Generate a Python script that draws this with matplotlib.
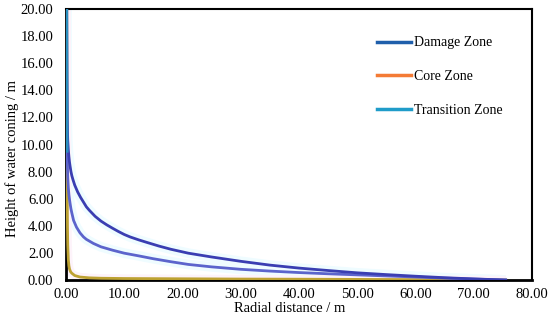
import matplotlib
matplotlib.use("Agg")
import matplotlib.pyplot as plt
from matplotlib.lines import Line2D

plt.rcParams['font.family'] = ['Liberation Serif', 'DejaVu Serif']

# values (radial distance in m, height in m)
damage_x = [0.12, 0.15, 0.2, 0.25, 0.3, 0.4, 0.5, 0.6, 0.7, 0.85, 1.0, 1.2, 1.5, 2.0, 2.5, 3.0,
            3.5, 4.0, 5.0, 6.0, 7.0, 8.0, 9.0, 10.0, 11.0, 12.5, 14.0, 16.0, 18.0, 21.0, 25.0,
            30.0, 35.0, 40.0, 45.0, 50.0, 55.0, 60.0, 65.0, 70.0, 75.5]
damage_h = [20.0, 15.0, 12.0, 11.0, 10.3, 9.6, 9.1, 8.7, 8.4, 8.0, 7.7, 7.4, 7.0, 6.5, 6.1, 5.75,
            5.4, 5.15, 4.7, 4.35, 4.07, 3.82, 3.58, 3.36, 3.18, 2.96, 2.76, 2.5, 2.27, 1.98, 1.7,
            1.38, 1.1, 0.88, 0.7, 0.53, 0.4, 0.28, 0.17, 0.08, 0.0]

trans_x = [0.12, 0.15, 0.2, 0.25, 0.3, 0.4, 0.5, 0.6, 0.7, 0.85, 1.0, 1.3, 1.8, 2.4, 3.0, 3.5,
           4.7, 6.0, 8.0, 10.0, 12.5, 15.0, 18.0, 21.0, 25.0, 30.0, 35.0, 40.0, 45.0, 50.0,
           55.0, 60.0, 65.0, 70.0, 75.5]
trans_h = [20.0, 14.0, 9.5, 8.3, 7.6, 6.8, 6.3, 5.95, 5.65, 5.25, 4.95, 4.4, 3.9, 3.48, 3.18, 3.0,
           2.7, 2.45, 2.2, 1.98, 1.78, 1.57, 1.35, 1.15, 0.97, 0.79, 0.66, 0.55, 0.46, 0.38,
           0.3, 0.22, 0.14, 0.07, 0.0]

core_x = [0.12, 0.15, 0.2, 0.25, 0.3, 0.4, 0.5, 0.6, 0.8, 1.0, 1.5, 2.4, 4.0, 6.0, 10.0, 20.0,
          30.0, 40.0, 50.0, 60.0, 70.0, 75.5]
core_h = [20.0, 12.0, 7.0, 4.0, 2.6, 1.5, 1.05, 0.82, 0.6, 0.5, 0.33, 0.22, 0.16, 0.13, 0.11, 0.09,
          0.07, 0.06, 0.045, 0.03, 0.015, 0.0]

labels = ["Damage Zone", "Core Zone", "Transition Zone"]
legend_colors = ["#1f5fab", "#f47b35", "#1f9cc9"]

fig = plt.figure(figsize=(5.5, 3.27), dpi=100)
ax = fig.add_axes([0.12, 0.1437, 0.847, 0.8288])

# faint halo seen around the curves
ax.plot(damage_x, damage_h, color="#effcff", lw=7, solid_capstyle="butt", zorder=1)
ax.plot(trans_x, trans_h, color="#effcff", lw=7, solid_capstyle="butt", zorder=1)
ax.plot(core_x, core_h, color="#fdf3fa", lw=6, solid_capstyle="butt", zorder=1)

ax.plot(core_x, core_h, color="#bda232", lw=2.0, zorder=3)
ax.plot(trans_x, trans_h, color="#5c64cc", lw=2.0, zorder=3)
ax.plot(damage_x, damage_h, color="#3a3eb2", lw=2.0, zorder=3)
# steep part next to the well shows in teal
ax.plot(trans_x[:3], trans_h[:3], color="#2a8fbf", lw=2.0, zorder=4)

ax.set_xlim(0, 80)
ax.set_ylim(0, 20)
ax.set_xticks(range(0, 81, 10))
ax.set_yticks(range(0, 21, 2))
ax.set_xticklabels([f"{v:.2f}" for v in range(0, 81, 10)])
ax.set_yticklabels([f"{v:.2f}" for v in range(0, 21, 2)])
ax.tick_params(axis="both", length=0, labelsize=10.5)
ax.tick_params(axis="x", pad=6)
ax.tick_params(axis="y", pad=9)

for s in ax.spines.values():
    s.set_color("black")
    s.set_linewidth(1.5)
ax.spines["left"].set_linewidth(2)
ax.spines["bottom"].set_linewidth(2)

ax.set_xlabel("Radial distance / m", fontsize=10.5)
ax.set_ylabel("Height of water coning / m", fontsize=10.5)
ax.xaxis.set_label_coords(0.48, -0.08)
ax.yaxis.set_label_coords(-0.1, 0.45)

handles = [Line2D([0], [0], color=c, lw=2.5) for c in legend_colors]
ax.legend(handles, labels, loc="upper left", bbox_to_anchor=(0.64, 0.945), frameon=False,
          fontsize=10, handlelength=2.5, handletextpad=0.2, labelspacing=1.5)

fig.savefig("out.png", dpi=100)
